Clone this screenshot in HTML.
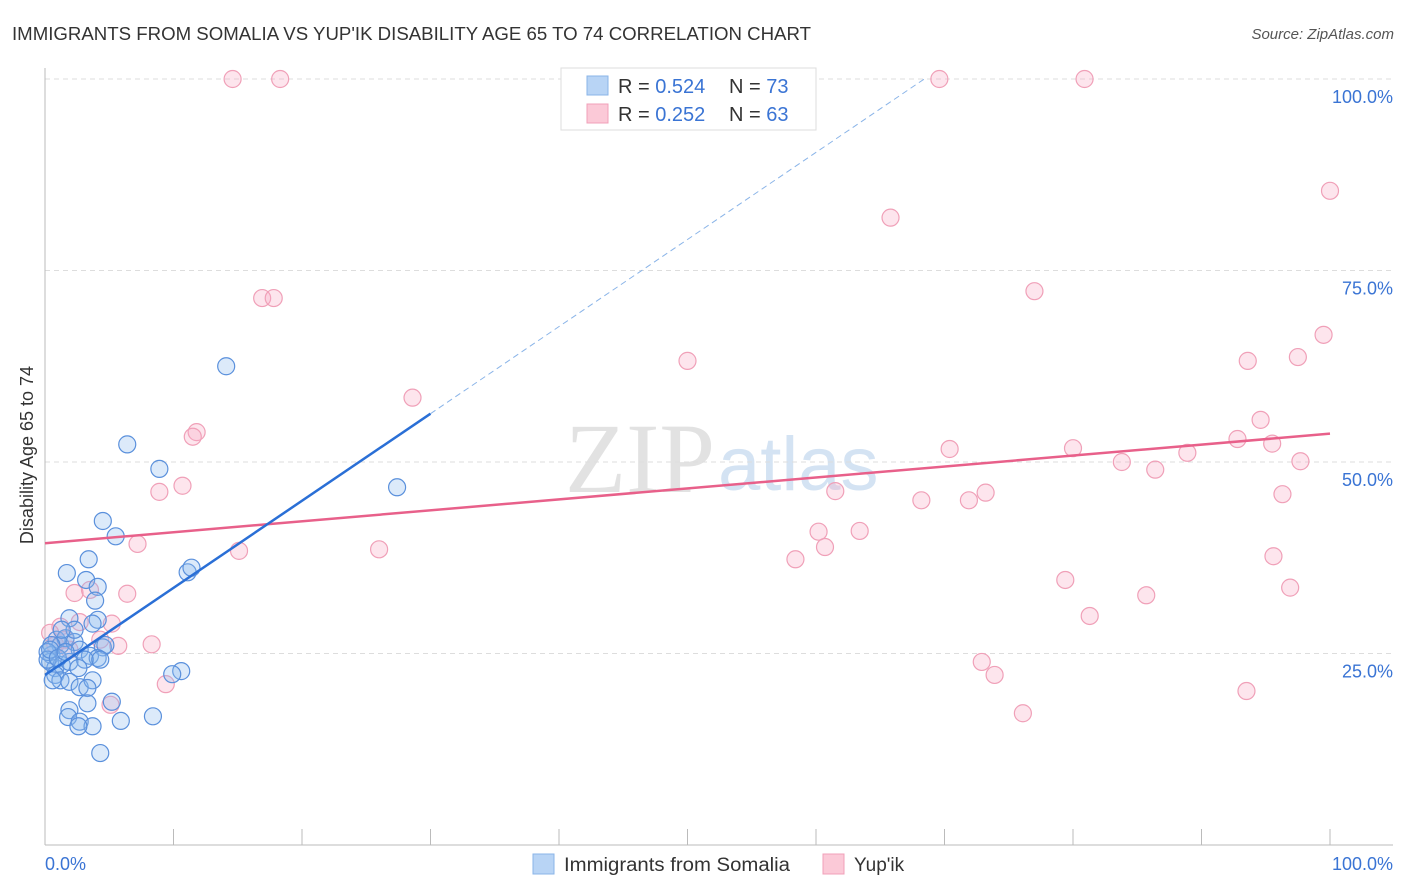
<!DOCTYPE html>
<html><head><meta charset="utf-8"><style>
body{margin:0;background:#fff;font-family:"Liberation Sans",sans-serif;}
#c{position:relative;width:1406px;height:892px;overflow:hidden;}
</style></head><body>
<div id="c">
<svg id="s" width="1406" height="892" xmlns="http://www.w3.org/2000/svg">
<text x="12" y="40" font-size="18" fill="#333" textLength="799" lengthAdjust="spacingAndGlyphs">IMMIGRANTS FROM SOMALIA VS YUP'IK DISABILITY AGE 65 TO 74 CORRELATION CHART</text>
<text x="1394" y="39" font-size="15" fill="#555" font-style="italic" text-anchor="end">Source: ZipAtlas.com</text>
<text x="715" y="492" font-size="100" fill="#e2e2e2" text-anchor="end" font-family="Liberation Serif">ZIP</text>
<text x="718" y="490" font-size="76" fill="#d4e3f3">atlas</text>
<text x="33" y="455" font-size="18" fill="#333" text-anchor="middle" transform="rotate(-90 33 455)">Disability Age 65 to 74</text>
<g id="grid"></g><g id="axes"></g><g id="pts"></g><g id="trend"></g>
<g>
<rect x="561" y="68" width="255" height="62" fill="#fff" stroke="#ddd"/>
<rect x="587" y="76" width="21" height="19" fill="#b8d4f5" stroke="#8ab4e8"/>
<rect x="587" y="104" width="21" height="19" fill="#fbc9d7" stroke="#f0a0b8"/>
<text x="618" y="93" font-size="20" fill="#333">R = <tspan fill="#3a74d4">0.524</tspan><tspan x="729">N = </tspan><tspan fill="#3a74d4">73</tspan></text>
<text x="618" y="121" font-size="20" fill="#333">R = <tspan fill="#3a74d4">0.252</tspan><tspan x="729">N = </tspan><tspan fill="#3a74d4">63</tspan></text>
</g>
<g>
<rect x="533" y="854" width="21" height="20" fill="#b8d4f5" stroke="#8ab4e8"/>
<text x="564" y="871" font-size="19" fill="#333" textLength="226" lengthAdjust="spacingAndGlyphs">Immigrants from Somalia</text>
<rect x="823" y="854" width="21" height="20" fill="#fbc9d7" stroke="#f0a0b8"/>
<text x="854" y="871" font-size="19" fill="#333">Yup'ik</text>
</g>
</svg></div>
<script>
const blueX=[14.1,6.4,8.9,27.4,4.5,5.5,3.4,1.7,3.2,4.1,3.9,1.9,4.1,3.7,11.1,11.4,4.5,4.7,0.9,1.2,1.6,2.3,2.7,3.5,4.1,3.1,0.5,0.4,0.8,1.3,1.9,2.6,0.8,1.2,1.9,2.7,3.7,3.3,10.6,9.9,5.2,3.3,1.9,1.8,2.7,3.7,5.9,8.4,4.3,2.6,0.5,0.2,0.6,0.2,4.3,2.3,1.3,0.4,1.0,1.6];
const blueY=[62.5,52.3,49.1,46.7,42.3,40.3,37.3,35.5,34.6,33.7,31.9,29.6,29.4,28.9,35.6,36.2,25.8,26.1,26.8,26.1,27.0,26.5,25.5,24.7,24.4,24.2,24.8,23.9,23.1,23.5,23.9,23.1,22.2,21.5,21.3,20.6,21.5,20.5,22.7,22.3,18.7,18.5,17.6,16.7,16.1,15.5,16.2,16.8,12.0,15.5,26.1,25.2,21.5,24.2,24.2,28.1,28.1,25.5,24.4,25.2];
const pinkX=[14.6,18.3,69.6,80.9,100,65.8,16.9,17.8,77.0,50.0,93.6,97.5,99.5,28.6,11.8,11.5,8.9,10.7,70.4,80.0,94.6,92.8,95.5,88.9,83.8,86.4,97.7,61.5,68.2,71.9,73.2,96.3,60.2,60.7,63.4,58.4,26.0,15.1,7.2,79.4,85.7,95.6,96.9,81.3,6.4,2.3,3.5,72.9,73.9,76.1,93.5,8.3,5.7,9.4,5.1,5.2,2.7,1.2,0.4,0.8,1.6,1.9,4.3];
const pinkY=[100,100,100,100,85.4,81.9,71.4,71.4,72.3,63.2,63.2,63.7,66.6,58.4,53.9,53.3,46.1,46.9,51.7,51.8,55.5,53.0,52.4,51.2,50.0,49.0,50.1,46.2,45.0,45.0,46.0,45.8,40.9,38.9,41.0,37.3,38.6,38.4,39.3,34.6,32.6,37.7,33.6,29.9,32.8,32.9,33.3,23.9,22.2,17.2,20.1,26.2,26.0,21.0,18.3,28.9,29.1,28.5,27.7,26.1,26.8,25.5,26.8];
const blueTrend=[22.2,1.137];
const pinkTrend=[39.4,0.143];
const yTicks=[25,50,75,100];
const yTickLabels=["25.0%","50.0%","75.0%","100.0%"];
const xTicks=[0,10,20,30,40,50,60,70,80,90,100];
const NS="http://www.w3.org/2000/svg";
const X=v=>45+v*12.85, Y=v=>845-v*7.66;
function mk(t,a,p){const e=document.createElementNS(NS,t);for(const k in a)e.setAttribute(k,a[k]);p.appendChild(e);return e;}
const grid=document.getElementById('grid'),axes=document.getElementById('axes'),pts=document.getElementById('pts'),tr=document.getElementById('trend');
yTicks.forEach((v,i)=>{
 const l=mk('line',{x1:45,x2:1393,y1:Y(v),y2:Y(v),stroke:'#ddd','stroke-dasharray':'5,4'},grid);
 
 
 const t=mk('text',{x:1393,y:Y(v)+24,'font-size':18,fill:'#3a74d4','text-anchor':'end'},grid);
 t.textContent=yTickLabels[i];
 
 
});
let a=mk('line',{x1:45,x2:45,y1:68,y2:845,stroke:'#bbb'},axes);


a=mk('line',{x1:45,x2:1393,y1:845,y2:845,stroke:'#bbb'},axes);


xTicks.forEach(v=>{const l=mk('line',{x1:X(v),x2:X(v),y1:829,y2:845,stroke:'#bbb'},axes);
 
 });
let t=mk('text',{x:45,y:870,'font-size':18,fill:'#3a74d4'},axes);t.textContent='0.0%';


t=mk('text',{x:1393,y:870,'font-size':18,fill:'#3a74d4','text-anchor':'end'},axes);t.textContent='100.0%';


pinkX.forEach((x,i)=>{const c=mk('circle',{cx:X(x),cy:Y(pinkY[i]),r:8.5,fill:'rgba(248,170,195,0.3)',stroke:'#f0a0b8','stroke-width':1.2},pts);
 
 });
blueX.forEach((x,i)=>{const c=mk('circle',{cx:X(x),cy:Y(blueY[i]),r:8.5,fill:'rgba(140,185,240,0.3)',stroke:'#5a90dc','stroke-width':1.2},pts);
 
 });
let l=mk('line',{x1:X(0),y1:Y(pinkTrend[0]),x2:X(100),y2:Y(pinkTrend[0]+pinkTrend[1]*100),stroke:'#e8608a','stroke-width':2.5},tr);


l=mk('line',{x1:X(0),y1:Y(blueTrend[0]),x2:X(30),y2:Y(blueTrend[0]+blueTrend[1]*30),stroke:'#2a6fd6','stroke-width':2.5},tr);


const xe=(100-blueTrend[0])/blueTrend[1];
l=mk('line',{x1:X(30),y1:Y(blueTrend[0]+blueTrend[1]*30),x2:X(xe),y2:Y(100),stroke:'#8ab4e8','stroke-width':1,'stroke-dasharray':'6,4'},tr);


</script>
</body></html>
